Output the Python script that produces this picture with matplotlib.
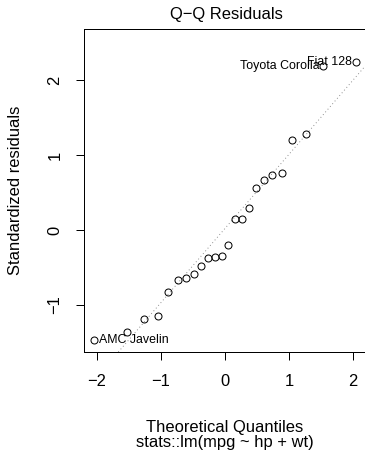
import numpy as np
import matplotlib.pyplot as plt

plt.rcParams['font.family'] = ['Liberation Sans', 'DejaVu Sans']

# theoretical normal quantiles
theo_q = [-2.04, -1.53, -1.26, -1.05, -0.89, -0.74, -0.61, -0.49, -0.38, -0.26, -0.16, -0.05,
          0.05, 0.16, 0.26, 0.38, 0.49, 0.61, 0.74, 0.89, 1.05, 1.26, 1.53, 2.04]
# sorted standardized residuals
std_resid = [-1.47, -1.36, -1.19, -1.15, -0.82, -0.67, -0.64, -0.58, -0.48, -0.37, -0.36, -0.35,
             -0.20, 0.15, 0.15, 0.29, 0.56, 0.67, 0.74, 0.76, 1.20, 1.28, 2.19, 2.24]
# the three labelled observations: index into the sorted arrays, name
id_points = [0, 22, 23]
id_names = ["AMC Javelin", "Toyota Corolla", "Fiat 128"]

W, H = 365, 454
DPI = 72
FS = 16.5


def px(x, y):
    # pixel position (from top-left) -> figure fraction
    return x / W, 1 - y / H


fig = plt.figure(figsize=(W / DPI, H / DPI), dpi=DPI)
ax = fig.add_axes([84 / W, 102 / H, 281.8 / W, 323 / H])

# qqline through the quartiles
y_q = np.quantile(std_resid, [0.25, 0.75])
x_q = np.array([-0.6745, 0.6745])
slope = (y_q[1] - y_q[0]) / (x_q[1] - x_q[0])
intercept = y_q[0] - slope * x_q[0]
ax.axline((0, intercept), slope=slope, color='#7f7f7f', lw=0.9, dashes=(1, 3), zorder=1)

ax.plot(theo_q, std_resid, 'o', mfc='none', mec='black', ms=7, mew=1, zorder=2)

for i, name in zip(id_points, id_names):
    if theo_q[i] < np.mean(theo_q):
        ax.annotate(name, (theo_q[i], std_resid[i]), xytext=(4.5, 0), textcoords='offset points',
                    ha='left', va='center', fontsize=FS * 0.75, annotation_clip=False)
    else:
        ax.annotate(name, (theo_q[i], std_resid[i]), xytext=(-3.5, 0), textcoords='offset points',
                    ha='right', va='center', fontsize=FS * 0.75, annotation_clip=False)

ax.set_xlim(-2.2, 2.2)
ax.set_ylim(-1.627, 2.682)
ax.set_xticks([-2, -1, 0, 1, 2])
ax.set_yticks([-1, 0, 1, 2])
ax.tick_params(direction='out', length=8, width=1, labelsize=FS)
ax.tick_params(axis='x', pad=14)
ax.tick_params(axis='y', labelrotation=90, pad=21)
for lab in ax.get_yticklabels():
    lab.set_ha('center')
    lab.set_va('center')
for s in ax.spines.values():
    s.set_linewidth(1)

fig.text(*px(226, 19.3), "Q\u2212Q Residuals", ha='center', va='baseline', fontsize=FS)
fig.text(*px(225, 431.7), "Theoretical Quantiles", ha='center', va='baseline', fontsize=FS)
fig.text(*px(225, 447), "stats::lm(mpg ~ hp + wt)", ha='center', va='baseline', fontsize=FS)
fig.text(*px(20, 190.5), "Standardized residuals", rotation=90, rotation_mode='anchor',
         ha='center', va='baseline', fontsize=FS)

fig.savefig('out.png', dpi=DPI)
